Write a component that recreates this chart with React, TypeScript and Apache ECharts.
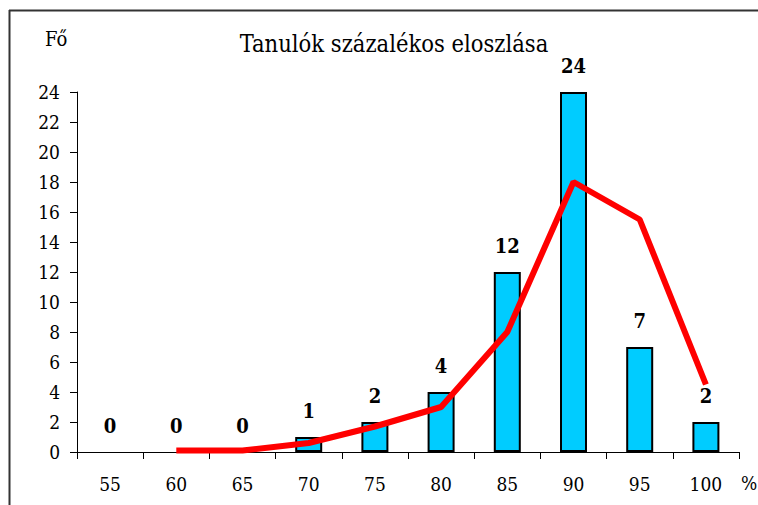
import React, { useEffect, useRef } from "react";
import * as echarts from "echarts";

const categories = ["55", "60", "65", "70", "75", "80", "85", "90", "95", "100"];
const counts = [0, 0, 0, 1, 2, 4, 12, 24, 7, 2];
const curve = [null, 0.1, 0.1, 0.6, 1.7, 3, 8, 18, 15.5, 4.5];
const titleText = "Tanulók százalékos eloszlása";
const yAxisName = "Fő";
const xAxisName = "%";

const FONT = "DejaVu Serif Condensed";

export default function App() {
  const ref = useRef<HTMLDivElement>(null);
  useEffect(() => {
    if (!ref.current) return;
    const chart = echarts.init(ref.current, null, { renderer: "svg" });
    const barData = counts.map((v) => ({
      value: v,
      itemStyle: v === 0 ? { borderWidth: 0 } : undefined,
    }));
    chart.setOption({
      animation: false,
      backgroundColor: "#ffffff",
      textStyle: { fontFamily: FONT },
      title: {
        text: titleText,
        left: 389,
        textAlign: "center",
        top: 27,
        textStyle: { fontFamily: FONT, fontSize: 23.5, fontWeight: "normal", color: "#000" },
      },
      grid: { left: 77, right: 19, top: 92, bottom: 53 },
      xAxis: {
        type: "category",
        data: categories,
        boundaryGap: true,
        axisLine: { lineStyle: { color: "#000", width: 1 } },
        axisTick: { show: true, length: 7, lineStyle: { color: "#000" } },
        axisLabel: { margin: 22, fontFamily: FONT, fontSize: 19, color: "#000" },
      },
      yAxis: {
        type: "value",
        min: 0,
        max: 24,
        interval: 2,
        axisLine: { show: true, lineStyle: { color: "#000", width: 1 } },
        axisTick: { show: true, length: 7, lineStyle: { color: "#000" } },
        splitLine: { show: false },
        axisLabel: { margin: 17, fontFamily: FONT, fontSize: 19, color: "#000" },
      },
      series: [
        {
          type: "bar",
          data: barData,
          barWidth: 27,
          itemStyle: { color: "#00CCFF", borderColor: "#000", borderWidth: 2 },
          label: {
            show: true,
            position: "top",
            distance: 16,
            fontFamily: FONT,
            fontSize: 20,
            fontWeight: "bold",
            color: "#000",
          },
          z: 2,
        },
        {
          type: "line",
          data: curve,
          symbol: "none",
          lineStyle: { color: "#FF0000", width: 6 },
          z: 3,
        },
      ],
      graphic: [
        { type: "line", shape: { x1: 9, y1: 10.5, x2: 758, y2: 10.5 }, style: { stroke: "#333", lineWidth: 2 } },
        { type: "line", shape: { x1: 9.5, y1: 10, x2: 9.5, y2: 505 }, style: { stroke: "#333", lineWidth: 2 } },
        {
          type: "text",
          left: 45,
          top: 29,
          style: { text: yAxisName, fontFamily: FONT, fontSize: 20, fill: "#000" },
        },
        {
          type: "text",
          left: 741,
          top: 473,
          style: { text: xAxisName, fontFamily: FONT, fontSize: 19, fill: "#000" },
        },
      ],
    });
    return () => chart.dispose();
  }, []);
  return (
    <div
      ref={ref}
      style={{ position: "fixed", left: 0, top: 0, width: 758, height: 505, background: "#fff" }}
    />
  );
}
